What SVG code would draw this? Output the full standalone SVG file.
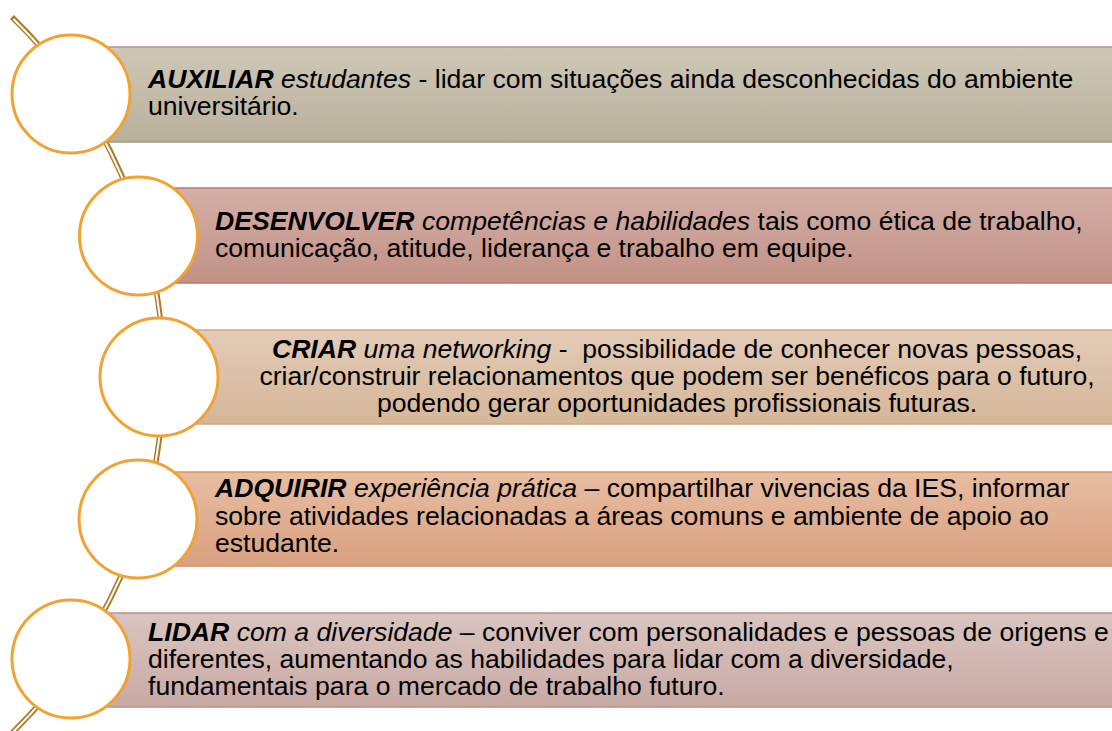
<svg xmlns="http://www.w3.org/2000/svg" width="1112" height="731" viewBox="0 0 1112 731">
<style>
  .t { font-family: "Liberation Sans", Arial, sans-serif; font-size: 26.6px; fill: #000; }
  .bi { font-weight: bold; font-style: italic; }
  .i { font-style: italic; }
  .ring { fill: #ffffff; stroke: #F0A232; stroke-width: 3; }
  .outer { fill: none; stroke: #B07A25; stroke-width: 5.5; }
  .inner { fill: none; stroke: #FFFFFF; stroke-width: 2; }
</style>
<defs>
  <linearGradient id="g1" x1="0" y1="0" x2="0" y2="1"><stop offset="0" stop-color="#CFC8B8"/><stop offset="1" stop-color="#B9B09B"/></linearGradient>
  <linearGradient id="g2" x1="0" y1="0" x2="0" y2="1"><stop offset="0" stop-color="#D4AFA7"/><stop offset="1" stop-color="#C29186"/></linearGradient>
  <linearGradient id="g3" x1="0" y1="0" x2="0" y2="1"><stop offset="0" stop-color="#E3CBB7"/><stop offset="1" stop-color="#D5B698"/></linearGradient>
  <linearGradient id="g4" x1="0" y1="0" x2="0" y2="1"><stop offset="0" stop-color="#E8BDA3"/><stop offset="1" stop-color="#D9A07F"/></linearGradient>
  <linearGradient id="g5" x1="0" y1="0" x2="0" y2="1"><stop offset="0" stop-color="#DAC5C0"/><stop offset="1" stop-color="#C8A9A4"/></linearGradient>
</defs>
<rect width="1112" height="731" fill="#ffffff"/>
<g id="connectors">
  <path class="outer" d="M 12,17 A 499 499 0 0 1 12,733"/>
  <path class="inner" d="M 13.5,19 A 499 499 0 0 1 12,733"/>
</g>
<g id="node1">
  <rect x="71" y="47" width="1045" height="95" fill="url(#g1)" stroke="#A69C82" stroke-width="1.5"/>
  <circle class="ring" cx="71" cy="94" r="59"/>
  <text class="t" x="148" y="88"><tspan class="bi">AUXILIAR</tspan><tspan class="i"> estudantes</tspan> - lidar com situações ainda desconhecidas do ambiente</text>
  <text class="t" x="148" y="115">universitário.</text>
</g>
<g id="node2">
  <rect x="138" y="188" width="978" height="95" fill="url(#g2)" stroke="#B87B6E" stroke-width="1.5"/>
  <circle class="ring" cx="138.5" cy="236" r="59"/>
  <text class="t" x="215" y="230"><tspan class="bi">DESENVOLVER</tspan><tspan class="i"> competências e habilidades</tspan> tais como ética de trabalho,</text>
  <text class="t" x="215" y="257">comunicação, atitude, liderança e trabalho em equipe.</text>
</g>
<g id="node3">
  <rect x="159" y="330" width="957" height="94" fill="url(#g3)" stroke="#D2A878" stroke-width="1.5"/>
  <circle class="ring" cx="159" cy="377" r="59"/>
  <text class="t" x="677" y="358" text-anchor="middle" xml:space="preserve"><tspan class="bi">CRIAR</tspan><tspan class="i"> uma networking</tspan> -  possibilidade de conhecer novas pessoas,</text>
  <text class="t" x="677" y="385" text-anchor="middle">criar/construir relacionamentos que podem ser benéficos para o futuro,</text>
  <text class="t" x="677" y="412" text-anchor="middle">podendo gerar oportunidades profissionais futuras.</text>
</g>
<g id="node4">
  <rect x="138" y="472" width="978" height="94" fill="url(#g4)" stroke="#D3955C" stroke-width="1.5"/>
  <circle class="ring" cx="138" cy="519" r="59"/>
  <text class="t" x="215" y="497"><tspan class="bi">ADQUIRIR</tspan><tspan class="i"> experiência prática</tspan> – compartilhar vivencias da IES, informar</text>
  <text class="t" x="215" y="525">sobre atividades relacionadas a áreas comuns e ambiente de apoio ao</text>
  <text class="t" x="215" y="552">estudante.</text>
</g>
<g id="node5">
  <rect x="71" y="613" width="1045" height="94" fill="url(#g5)" stroke="#B8928A" stroke-width="1.5"/>
  <circle class="ring" cx="71" cy="659" r="59"/>
  <text class="t" x="148" y="641"><tspan class="bi">LIDAR</tspan><tspan class="i"> com a diversidade</tspan> – conviver com personalidades e pessoas de origens e</text>
  <text class="t" x="148" y="668">diferentes, aumentando as habilidades para lidar com a diversidade,</text>
  <text class="t" x="148" y="695">fundamentais para o mercado de trabalho futuro.</text>
</g>
</svg>
